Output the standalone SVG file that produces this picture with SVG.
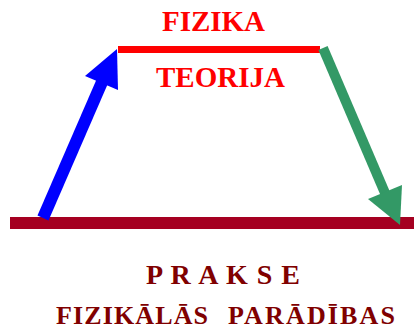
<svg xmlns="http://www.w3.org/2000/svg" width="414" height="330" viewBox="0 0 414 330">
<style>
.t{font-family:"Liberation Serif","Times New Roman",serif;font-weight:bold}
.red{fill:#FF0000}
.dk{fill:#800000}
</style>
<rect width="414" height="330" fill="#FFFFFF"/>
<g id="teorija">
<line x1="118" y1="49.5" x2="320" y2="49.5" stroke="#FF0000" stroke-width="7"/>
<text class="t red" x="213.5" y="30.5" font-size="29" text-anchor="middle">FIZIKA</text>
<text class="t red" x="220.5" y="87" font-size="29" text-anchor="middle">TEORIJA</text>
</g>
<g id="prakse">
<line x1="10" y1="223" x2="414" y2="223" stroke="#A50021" stroke-width="12"/>
<text class="t dk" x="146" y="284" font-size="28" textLength="154" lengthAdjust="spacing">P R A K S E</text>
<text class="t dk" x="56" y="324" font-size="26" textLength="152" lengthAdjust="spacing">FIZIKĀLĀS</text>
<text class="t dk" x="228" y="324" font-size="26" textLength="167" lengthAdjust="spacing">PARĀDĪBAS</text>
</g>
<g id="connectors">
<line x1="43" y1="218" x2="102" y2="82" stroke="#0000FF" stroke-width="12"/>
<polygon points="117,49 85,76 118,90" fill="#0000FF"/>
<line x1="323" y1="48" x2="385" y2="193" stroke="#339966" stroke-width="10"/>
<polygon points="400,225 368,199 402,185" fill="#339966"/>
</g>
</svg>
